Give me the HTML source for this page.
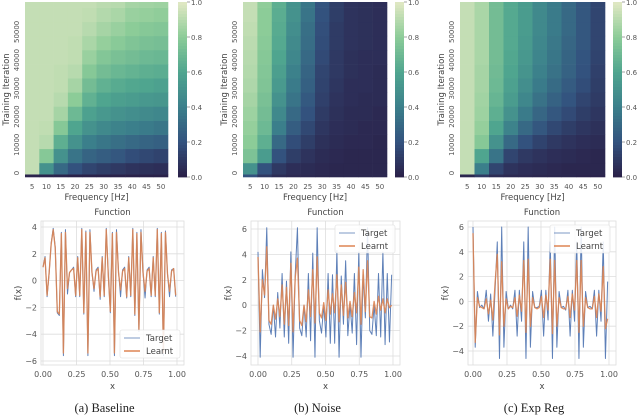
<!DOCTYPE html>
<html><head><meta charset="utf-8">
<style>
html,body{margin:0;padding:0;background:#fff;}
svg{display:block;font-family:"DejaVu Sans","Liberation Sans",sans-serif;}
.tk{font-size:8px;fill:#555;}
.tks{font-size:7px;fill:#555;}
.lb{font-size:8.5px;fill:#444;}
.cap{font-family:"Liberation Serif",serif;font-size:12.5px;fill:#222;}
</style></head>
<body>
<svg id="fig" width="640" height="420" viewBox="0 0 640 420" xmlns="http://www.w3.org/2000/svg"></svg>
<script>
// ---------- heatmap data ----------
const freqLabels = ["5","10","15","20","25","30","35","40","45","50"];
const iterEdges = [0,1000,5000,10000,15000,20000,25000,30000,35000,40000,45000,50000,55000,60000,62000];
const iterTicks = [0,10000,20000,30000,40000,50000];
const cbTicks = [0.0,0.2,0.4,0.6,0.8,1.0];
const baselineCols = [
 [0.02,0.93,0.93,0.93,0.93,0.93,0.93,0.93,0.93,0.93,0.93,0.93,0.93,0.93],
 [0.02,0.5,0.78,0.9,0.92,0.93,0.93,0.93,0.93,0.93,0.93,0.93,0.93,0.93],
 [0.02,0.3,0.5,0.65,0.78,0.86,0.9,0.92,0.92,0.93,0.93,0.93,0.93,0.93],
 [0.01,0.2,0.35,0.5,0.6,0.7,0.8,0.86,0.9,0.92,0.92,0.93,0.93,0.93],
 [0.01,0.15,0.28,0.4,0.5,0.58,0.66,0.72,0.78,0.83,0.87,0.9,0.92,0.93],
 [0.01,0.12,0.25,0.36,0.45,0.53,0.6,0.66,0.72,0.77,0.82,0.86,0.89,0.91],
 [0.01,0.1,0.22,0.33,0.42,0.5,0.57,0.63,0.69,0.74,0.79,0.83,0.87,0.9],
 [0.01,0.08,0.18,0.3,0.4,0.48,0.55,0.61,0.67,0.72,0.76,0.8,0.83,0.86],
 [0.01,0.07,0.16,0.28,0.38,0.46,0.53,0.6,0.65,0.7,0.74,0.78,0.82,0.85],
 [0.01,0.06,0.14,0.26,0.36,0.44,0.52,0.58,0.64,0.69,0.73,0.77,0.81,0.84]
];
const noiseCols = [
 [0.2,0.5,0.75,0.8,0.82,0.84,0.86,0.88,0.89,0.9,0.91,0.92,0.93,0.93],
 [0.1,0.2,0.55,0.65,0.7,0.72,0.74,0.76,0.77,0.78,0.79,0.8,0.8,0.81],
 [0.05,0.1,0.2,0.3,0.4,0.45,0.5,0.54,0.57,0.6,0.62,0.63,0.64,0.65],
 [0.04,0.06,0.12,0.18,0.25,0.3,0.35,0.38,0.41,0.44,0.46,0.48,0.5,0.5],
 [0.04,0.05,0.08,0.12,0.16,0.2,0.23,0.26,0.28,0.3,0.32,0.33,0.35,0.36],
 [0.03,0.04,0.05,0.07,0.09,0.11,0.13,0.14,0.15,0.17,0.18,0.19,0.2,0.21],
 [0.03,0.03,0.04,0.05,0.06,0.07,0.08,0.09,0.1,0.1,0.11,0.11,0.12,0.12],
 [0.03,0.03,0.03,0.04,0.05,0.05,0.06,0.06,0.07,0.07,0.08,0.08,0.08,0.08],
 [0.03,0.03,0.03,0.04,0.04,0.05,0.05,0.06,0.06,0.06,0.07,0.07,0.07,0.07],
 [0.03,0.03,0.03,0.03,0.04,0.04,0.05,0.05,0.05,0.06,0.06,0.06,0.06,0.06]
];
const expCols = [
 [0.03,0.93,0.93,0.93,0.93,0.93,0.93,0.93,0.93,0.93,0.93,0.93,0.93,0.93],
 [0.1,0.4,0.6,0.78,0.82,0.84,0.85,0.86,0.86,0.87,0.87,0.87,0.87,0.87],
 [0.05,0.15,0.35,0.5,0.6,0.65,0.68,0.7,0.71,0.72,0.72,0.72,0.72,0.72],
 [0.04,0.08,0.15,0.3,0.42,0.5,0.55,0.58,0.6,0.61,0.62,0.62,0.62,0.62],
 [0.04,0.06,0.1,0.2,0.3,0.38,0.44,0.48,0.51,0.53,0.54,0.55,0.55,0.55],
 [0.03,0.05,0.08,0.14,0.22,0.29,0.34,0.38,0.41,0.43,0.44,0.45,0.45,0.45],
 [0.03,0.04,0.06,0.1,0.16,0.22,0.27,0.31,0.34,0.36,0.37,0.38,0.38,0.38],
 [0.03,0.03,0.05,0.08,0.12,0.17,0.21,0.24,0.27,0.28,0.29,0.3,0.3,0.3],
 [0.02,0.03,0.04,0.06,0.09,0.12,0.15,0.18,0.2,0.21,0.22,0.22,0.22,0.22],
 [0.02,0.03,0.03,0.05,0.07,0.09,0.11,0.12,0.13,0.14,0.15,0.15,0.15,0.15]
];
// ---------- function plot data ----------
const xTicks = [0,0.25,0.5,0.75,1.0];
const baseTarget = [1,1.8,-1.2,0.5,2.8,3.9,2.5,-2.4,-2.6,3.6,-5.6,3.8,-1,0.6,0.8,1,-1.2,1.8,-1.2,3.9,
 -2.5,3.7,-5.6,3.8,0.6,-0.8,0.8,1,-1.4,1.8,-1.2,3.9,0.4,-2.4,3.6,-5.6,3.8,0.7,-1.2,0.8,
 1,-1.3,1.8,-1.2,3.9,-2.6,3.6,-3.8,3.8,0.6,-1.3,0.8,1.0,-1.2,1.8,-1.2,3.9,-2.5,3.6,-5.6,
 3.7,0.5,-1.2,0.8,0.9,-1.2];
const baseLearnt = [1,1.7,-1.1,0.6,2.7,3.8,2.4,-2.3,-2.5,3.5,-5.4,3.6,-0.6,0.6,0.8,0.9,-1.1,1.7,-1.1,3.8,
 -2.4,3.6,-5.4,3.6,0.6,-0.6,0.7,0.9,-1.2,1.7,-1.1,3.8,0.4,-2.3,3.5,-5.4,3.6,0.6,-0.7,0.7,
 0.9,-1.2,1.7,-1.1,3.8,-2.5,3.5,-3.7,3.6,0.6,-0.8,0.7,0.9,-1.1,1.7,-1.1,3.8,-2.4,3.5,-5.4,
 3.6,0.5,-0.8,0.7,0.9,-1.1];
const noiseTarget = [4.2,-4.1,2.8,0.6,6.1,-1.5,-2.3,0,-2.5,1,-1.8,2.5,-2.5,1.9,-3,4.2,-4.1,2.5,6.1,-1.8,
 -2.4,0,-2.5,2.5,-2.8,4.1,-4.1,6.1,-1.2,-2.2,0,-2.5,2.5,-3,2.4,-3,4.3,-4.1,2.3,-1.5,
 3.5,-2.4,0.1,-2.2,2.5,-3.1,4.2,-4.1,2.4,-1,6.1,-2,-2.3,0,-2.4,2.5,-2.5,4.2,-3.1,2.5,
 -2.9,2.4];
const noiseLearnt = [3.8,-2.1,2,0.8,4.6,-1.2,-1.5,0,-1.1,0.5,-0.9,1.6,-1.5,1.4,-1.6,3.3,-2.1,2.2,3.7,-1.2,
 -1.6,0,-1.3,1.2,-0.9,2.8,-1.4,3.8,-0.6,-1,0.2,-1.2,1.2,-0.7,0.9,-0.6,2.4,-1.3,1.6,-0.8,
 1.8,-1,0.3,-0.9,1,-0.6,3,-1.5,2.8,-0.5,3.5,-0.9,-1,0.3,-0.7,0.7,-0.4,0.5,-0.6,0.5,
 -0.2,0];
const expTarget = [6,-3.7,0.8,-0.5,-0.3,-0.6,0.9,-1.6,0.6,-2.8,0.9,4.8,-4.6,6,-3.7,0.8,-0.6,-0.3,-0.6,0.9,
 -2.8,0.9,-1.6,4.8,-4.6,6,-3.7,0.8,-0.5,-0.5,-0.4,0.9,-2.8,0.9,-1.5,4.8,-4.6,6,-3.7,0.8,
 -0.5,-0.4,-0.7,0.9,-2.8,0.9,-1.6,4.8,-4.6,6,-3.7,0.8,-0.5,-0.4,-0.6,0.9,-2.8,0.9,-1.6,4.8,
 -4.6,1.6];
const expLearnt = [5.5,-3.3,0.3,-0.4,-0.5,-0.6,0.2,-1,0.1,-1.5,1.5,3.8,-2.7,3.2,-2,0.2,-0.6,-0.4,-0.5,0.3,
 -1.2,0.5,-0.8,3.3,-2.5,3.4,-2,0.3,-0.5,-0.6,-0.5,0.4,-1.3,0.5,-0.7,3.4,-2.6,3.3,-2,0.3,
 -0.5,-0.6,-0.6,0.4,-1.3,0.6,-0.7,3.3,-2.5,3.3,-2,0.3,-0.5,-0.6,-0.6,0.4,-1.3,0.6,-0.8,2.8,
 -2.2,-1.4];

const NS="http://www.w3.org/2000/svg";
const svg=document.getElementById('fig');
function mk(tag,attrs,parent){const e=document.createElementNS(NS,tag);for(const k in attrs)e.setAttribute(k,attrs[k]);(parent||svg).appendChild(e);return e;}
function txt(s,attrs,parent){const e=mk('text',attrs,parent);e.textContent=s;return e;}
const stops=[[0,[42,31,71]],[0.2,[51,82,126]],[0.4,[59,127,139]],[0.6,[79,165,143]],[0.8,[140,204,152]],[1,[226,232,196]]];
function cmap(v){v=Math.max(0,Math.min(1,v));for(let i=1;i<stops.length;i++){if(v<=stops[i][0]){const a=stops[i-1],b=stops[i],t=(v-a[0])/(b[0]-a[0]);const c=a[1].map((q,j)=>Math.round(q+(b[1][j]-q)*t));return `rgb(${c[0]},${c[1]},${c[2]})`;}}return 'rgb(226,232,196)';}

function heatmap(cols,x0,x1,cbx,name){
  const y0=2,y1=177;const g=mk('g',{});
  
  
  const ymax=iterEdges[iterEdges.length-1];
  const ys=v=>y1-(v/ymax)*(y1-y0);
  const cw=(x1-x0)/cols.length;
  cols.forEach((col,ci)=>{col.forEach((v,ri)=>{
    const r=mk('rect',{x:x0+ci*cw,y:ys(iterEdges[ri+1]),width:cw+0.3,height:ys(iterEdges[ri])-ys(iterEdges[ri+1])+0.3,fill:cmap(v)},g);
    
    
  });
  const t=txt(freqLabels[ci],{x:x0+(ci+0.5)*cw,y:189,'text-anchor':'middle',class:'tks'},g);
  
  
  });
  iterTicks.forEach(v=>{const yy=Math.min(ys(v)-4,176);const t=txt(String(v),{x:0,y:0,transform:`translate(${x0-6},${yy}) rotate(-90)`,'text-anchor':'middle',class:'tks'},g);
    
    });
  const xt=txt('Frequency [Hz]',{x:(x0+x1)/2,y:200,'text-anchor':'middle',class:'lb'},g);
  
  
  const yt=txt('Training Iteration',{x:0,y:0,transform:`translate(${x0-16},${(y0+y1)/2}) rotate(-90)`,'text-anchor':'middle',class:'lb'},g);
  
  
  const cb=mk('g',{},g);
  
  
  for(let i=0;i<60;i++){const v=i/60;mk('rect',{x:cbx,y:y1-(i+1)/60*(y1-y0),width:9,height:(y1-y0)/60+0.4,fill:cmap(v+1/120)},cb);}
  cbTicks.forEach(v=>{const yy=y1-v*(y1-y0);mk('line',{x1:cbx+9,x2:cbx+12,y1:yy,y2:yy,stroke:'#666','stroke-width':0.6},cb);
    const t=txt(v.toFixed(1),{x:cbx+13,y:yy+3,class:'tks'},cb);
    
    });
}
heatmap(baselineCols,25,168,178,'baseline-heatmap');
heatmap(noiseCols,243,387,395,'noise-heatmap');
heatmap(expCols,460,605,613,'exp-reg-heatmap');

function fplot(p){
  const g=mk('g',{});
  
  
  const top=221,bot=365;
  const xs=v=>p.xa+(v)*(p.xb-p.xa);
  const ys=v=>p.ya+(v-p.yav)/(p.ybv-p.yav)*(p.yb-p.ya);
  mk('rect',{x:p.L,y:top,width:p.R-p.L,height:bot-top,fill:'#fff',stroke:'#ddd','stroke-width':0.8},g);
  xTicks.forEach(v=>{mk('line',{x1:xs(v),x2:xs(v),y1:top,y2:bot,stroke:'#ddd','stroke-width':0.8},g);
    const t=txt(v.toFixed(2),{x:xs(v),y:377,'text-anchor':'middle',class:'tk'},g);
    
    });
  p.yt.forEach(v=>{mk('line',{x1:p.L,x2:p.R,y1:ys(v),y2:ys(v),stroke:'#ddd','stroke-width':0.8},g);
    const t=txt(v<0?'\u2212'+(-v):String(v),{x:p.L-4,y:ys(v)+3,'text-anchor':'end',class:'tk'},g);
    
    });
  const line=(arr,col,w,op,nm)=>{const n=arr.length;const d=arr.map((v,i)=>(i?'L':'M')+xs(i/(n-1)*0.99).toFixed(2)+','+ys(v).toFixed(2)).join('');
    const e=mk('path',{d:d,fill:'none',stroke:col,'stroke-width':w,opacity:op,'stroke-linejoin':'round'},g);
    
    };
  line(p.t,'#4c72b0',1,0.9,'target-line');
  line(p.l,'#dd8452',1.3,0.9,'learnt-line');
  const tt=txt('Function',{x:(p.L+p.R)/2,y:215,'text-anchor':'middle',class:'lb'},g);
  
  
  const xl=txt('x',{x:(p.L+p.R)/2,y:389,'text-anchor':'middle',class:'lb'},g);
  
  
  const yl=txt('f(x)',{x:0,y:0,transform:`translate(${p.L-20},${(top+bot)/2}) rotate(-90)`,'text-anchor':'middle',class:'lb'},g);
  
  
  const lg=mk('g',{},g);
  
  
  mk('rect',{x:p.lgx,y:p.lgy,width:60,height:28,fill:'#fff','fill-opacity':0.85,stroke:'#ddd','stroke-width':0.6,rx:2},lg);
  mk('line',{x1:p.lgx+4,x2:p.lgx+20,y1:p.lgy+8,y2:p.lgy+8,stroke:'#4c72b0','stroke-width':1.2,opacity:0.6},lg);
  mk('line',{x1:p.lgx+4,x2:p.lgx+20,y1:p.lgy+21,y2:p.lgy+21,stroke:'#dd8452','stroke-width':1.5},lg);
  const a=txt('Target',{x:p.lgx+26,y:p.lgy+11,class:'lb'},lg);
  
  
  const b=txt('Learnt',{x:p.lgx+26,y:p.lgy+24,class:'lb'},lg);
  
  
  const c=txt(p.cap,{x:(p.L+p.R)/2-8,y:412,'text-anchor':'middle',class:'cap'},g);
  
  
}
fplot({name:'baseline-function-plot',L:41,R:184,xa:43,xb:177,ya:227,yav:4,yb:361,ybv:-6,yt:[4,2,0,-2,-4,-6],t:baseTarget,l:baseLearnt,lgx:120,lgy:330,cap:'(a)  Baseline'});
fplot({name:'noise-function-plot',L:251,R:400,xa:258,xb:393,ya:229,yav:6,yb:356,ybv:-4,yt:[6,4,2,0,-2,-4],t:noiseTarget,l:noiseLearnt,lgx:335,lgy:225,cap:'(b)  Noise'});
fplot({name:'exp-reg-function-plot',L:468,R:616,xa:473,xb:609,ya:227,yav:6,yb:351,ybv:-4,yt:[6,4,2,0,-2,-4],t:expTarget,l:expLearnt,lgx:550,lgy:225,cap:'(c)  Exp Reg'});
</script>
</body></html>
